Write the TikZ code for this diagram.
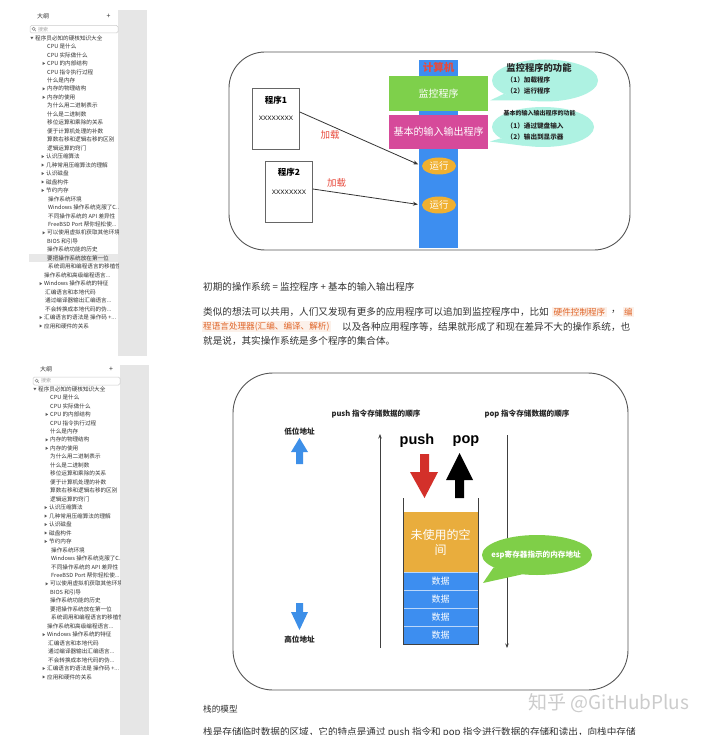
\documentclass[tikz,border=0pt]{standalone}
\usepackage{fontspec}
\setmainfont{Noto Sans CJK SC}
\newfontfamily\latf{Liberation Sans}
\usetikzlibrary{arrows.meta,shapes.geometric}
\definecolor{barblue}{HTML}{3D8EF0}
\definecolor{mongreen}{HTML}{7ED04B}
\definecolor{biomag}{HTML}{D64A9A}
\definecolor{ovalor}{HTML}{F0B030}
\definecolor{bubcyan}{HTML}{AEF2E2}
\definecolor{redtxt}{HTML}{E84A3C}
\definecolor{stkor}{HTML}{E9AD3D}
\definecolor{stkblue}{HTML}{3D8EF0}
\definecolor{espgreen}{HTML}{7FCF48}
\definecolor{redarr}{HTML}{D3302A}
\definecolor{ltblue}{HTML}{3D8FE8}
\definecolor{framec}{HTML}{555555}
\definecolor{sidegray}{HTML}{E6E6E6}
\definecolor{bodytxt}{HTML}{333333}
\definecolor{codeor}{HTML}{E0662A}
\definecolor{codebg}{HTML}{FCF1EA}
\newcommand\fsz[1]{\fontsize{#1}{#1}\selectfont}
\newcommand\eldots{...}
\def\sblist{0/35/2/程序员必知的硬核知识大全,1/47/0/CPU 是什么,2/47/0/CPU 实际做什么,3/47/1/CPU 的内部结构,4/47/0/CPU 指令执行过程,5/47/0/什么是内存,6/47/1/内存的物理结构,7/47/1/内存的使用,8/47/0/为什么用二进制表示,9/47/0/什么是二进制数,10/47/0/移位运算和乘除的关系,11/47/0/便于计算机处理的补数,12/47/0/算数右移和逻辑右移的区别,13/47/0/逻辑运算的窍门,14/46/1/认识压缩算法,15/46/1/几种常用压缩算法的理解,16/46/1/认识磁盘,17/46/1/磁盘构件,18/46/1/节约内存,19/48/0/操作系统环境,20/48/0/Windows 操作系统克服了C\eldots,21/48/0/不同操作系统的 API 差异性,22/48/0/FreeBSD Port 帮你轻松使\eldots,23/47/1/可以使用虚拟机获取其他环境,24/47/0/BIOS 和引导,25/47/0/操作系统功能的历史,26/47/0/要把操作系统放在第一位,27/48/0/系统调用和编程语言的移植性,28/44/0/操作系统和高级编程语言\eldots,29/44/1/Windows 操作系统的特征,30/45/0/汇编语言和本地代码,31/45/0/通过编译器输出汇编语言\eldots,32/45/0/不会转换成本地代码的伪\eldots,33/44/1/汇编语言的语法是 操作码 +\eldots,34/44/1/应用和硬件的关系}
\newcommand\sidebar[3]{%
  \foreach \i/\xx/\tk/\itm in \sblist {%
    \pgfmathsetmacro\yy{#3+\i*8.47}%
    \node[sbitem] (#1\i) at (\xx+#2,\yy) {\itm};
    \ifnum\tk=1 \fill[sbtri] (\xx+#2-4.3,\yy-1.5) -- ++(2.4,1.5) -- ++(-2.4,1.5) -- cycle;\fi
    \ifnum\tk=2 \fill[sbtri] (\xx+#2-4.6,\yy-1.1) -- ++(3,0) -- ++(-1.5,2.4) -- cycle;\fi
  }%
}
\tikzset{
  sbitem/.style={anchor=west,inner sep=0,font=\fsz{5.6},text=bodytxt},
  sbtri/.style={fill=black!65},
  sbhead/.style={inner sep=0,font=\fsz{6},text=bodytxt},
  frame/.style={draw=framec,line width=0.9pt,rounded corners=36pt},
  progbox/.style={draw=black!60,line width=0.6pt,minimum width=47,minimum height=61,inner sep=0},
  ldarrow/.style={draw=black!80,line width=0.8pt,-{Stealth[length=5pt,width=4pt]},shorten >=4pt},
  redlbl/.style={text=redtxt,font=\fsz{9.5}},
  runoval/.style={ellipse,fill=ovalor,minimum width=34,minimum height=17,inner sep=0,text=white,font=\fsz{9.5}},
  bubtxt/.style={inner sep=0,text=black!85,font=\fsz{6.6}\bfseries},
  body/.style={anchor=west,inner sep=0,text=bodytxt,font=\fsz{9.6}},
  code/.style={anchor=west,inner xsep=1.5,inner ysep=1.5,fill=codebg,text=codeor,font=\fsz{8.6}},
  smlbl/.style={inner sep=0,text=black!85,font=\fsz{7.6}\bfseries},
  datab/.style={fill=stkblue,draw=white!65!stkblue,line width=0.6pt,minimum width=75,minimum height=18,inner sep=0,text=white,font=\fsz{9}},
}
\begin{document}
\begin{tikzpicture}[x=1pt,y=-1pt]
\useasboundingbox (0,0) rectangle (720,735);
\clip (0,0) rectangle (720,735);
\fill[white] (0,0) rectangle (720,735);
% ---------------- sidebar 1
\fill[sidegray] (118,10) rectangle (147,356);
\node[sbhead,anchor=west] (h1) at (37,16.5) {大纲};
\node[sbhead,font=\fsz{7}] (p1plus) at (108.5,16.5) {+};
\draw[black!20,line width=0.5pt,rounded corners=1.5] (30,25.5) rectangle (118,33);
\draw[black!45,line width=0.5pt] (33.6,28.8) circle[radius=1.6pt] (34.8,30) -- (36,31.2);
\node[sbitem,text=black!35,font=\fsz{5}] (s1) at (38,29.3) {搜索};
\fill[black!9] (29,254.2) rectangle (118,262.4);
\begin{scope}
\clip (28,34) rectangle (118,356);
\sidebar{a}{0}{38}
\end{scope}
% ---------------- sidebar 2
\fill[sidegray] (120,365) rectangle (149,735);
\node[sbhead,anchor=west] (h2) at (40,369) {大纲};
\node[sbhead,font=\fsz{7}] (p2plus) at (111,369) {+};
\draw[black!20,line width=0.5pt,rounded corners=1.5] (33,377) rectangle (120,385);
\draw[black!45,line width=0.5pt] (36.6,380.6) circle[radius=1.6pt] (37.8,381.8) -- (39,383);
\node[sbitem,text=black!35,font=\fsz{5}] (s2) at (41,381) {搜索};
\begin{scope}
\clip (30,386) rectangle (120,735);
\sidebar{b}{3}{389}
\end{scope}
% ---------------- diagram 1
\draw[frame] (229,52) rectangle (630,250);
\node[progbox] (p1) at (276,118.5) {};
\node[inner sep=0,font=\fsz{8.5}\bfseries] (p1t) at (276,100) {程序1};
\node[inner sep=0,font=\latf\fsz{6.4}] (p1x) at (276,118) {XXXXXXXX};
\node[progbox] (p2) at (289,192) {};
\node[inner sep=0,font=\fsz{8.5}\bfseries] (p2t) at (289,172.5) {程序2};
\node[inner sep=0,font=\latf\fsz{6.4}] (p2x) at (289,192) {XXXXXXXX};
\node[fill=barblue,minimum width=39,minimum height=188,inner sep=0] (bar) at (438.5,154) {};
\node[text=redtxt,font=\fsz{10.5}\bfseries,inner sep=0] (comp) at (438.5,67) {计算机};
\node[fill=mongreen,minimum width=99,minimum height=35,inner sep=0,text=white,font=\fsz{10}] (mon) at (438.5,93.5) {监控程序};
\node[fill=biomag,minimum width=99,minimum height=34,inner sep=0,text=white,font=\fsz{10}] (bio) at (438.5,132) {基本的输入输出程序};
\node[runoval] (run1) at (439,166) {运行};
\node[runoval] (run2) at (439,205) {运行};
\draw[ldarrow] ([yshift=6.5pt]p1.east) -- (run1.west);
\draw[ldarrow] ([yshift=3pt]p2.east) -- (run2.west);
\node[redlbl] (ld1) at (330,135) {加载};
\node[redlbl] (ld2) at (336.5,183) {加载};
% bubbles
\node[ellipse,fill=bubcyan,minimum width=106,minimum height=42,inner sep=0] (b1) at (545,80.5) {};
\coordinate (b1tip) at (490,100.5);
\fill[bubcyan] (b1.198) -- (b1tip) -- (b1.228) -- cycle;
\node[inner sep=0,font=\fsz{9.3}\bfseries,text=black!85] (b1a) at (539,67.5) {监控程序的功能};
\node[bubtxt,anchor=west] (b1b) at (506.5,79.5) {（1）加载程序};
\node[bubtxt,anchor=west] (b1c) at (506.5,91) {（2）运行程序};
\node[ellipse,fill=bubcyan,minimum width=102,minimum height=40,inner sep=0] (b2) at (543,127) {};
\coordinate (b2tip) at (490,141.5);
\fill[bubcyan] (b2.195) -- (b2tip) -- (b2.228) -- cycle;
\node[inner sep=0,font=\fsz{6}\bfseries,text=black!85] (b2a) at (539.5,113.5) {基本的输入输出程序的功能};
\node[bubtxt,anchor=west] (b2b) at (506.5,126.5) {（1）通过键盘输入};
\node[bubtxt,anchor=west] (b2c) at (506.5,136.5) {（2）输出到显示器};
% ---------------- paragraph
\node[body] (l1) at (203,287) {初期的操作系统 = 监控程序 + 基本的输入输出程序};
\node[body] (l2a) at (203,312) {类似的想法可以共用，人们又发现有更多的应用程序可以追加到监控程序中，比如};
\node[code] (l2b) at (552,312) {硬件控制程序};
\node[body] (l2c) at (611,312) {，};
\node[code] (l2d) at (622.5,312) {编};
\node[code] (l3a) at (201.5,326.5) {程语言处理器(汇编、编译、解析)};
\node[body] (l3b) at (342,326.5) {以及各种应用程序等，结果就形成了和现在差异不大的操作系统，也};
\node[body] (l4) at (203,341) {就是说，其实操作系统是多个程序的集合体。};
% ---------------- diagram 2
\draw[frame,rounded corners=40pt] (233,373) rectangle (628,690);
\node[smlbl] (pushl) at (376,414) {push 指令存储数据的顺序};
\node[smlbl] (popl) at (527,414) {pop 指令存储数据的顺序};
\node[smlbl] (low) at (299.5,432) {低位地址};
\node[smlbl] (high) at (299.5,640) {高位地址};
\fill[ltblue] (299.5,438) -- (308,452) -- (303,452) -- (303,464) -- (296,464) -- (296,452) -- (291,452) -- cycle;
\fill[ltblue] (299.5,630) -- (308,612) -- (303,612) -- (303,603) -- (296,603) -- (296,612) -- (291,612) -- cycle;
\coordinate (lbot) at (380,648);
\coordinate (ltop) at (380,434);
\coordinate (rtop) at (507,435);
\coordinate (rbot) at (507,648);
\draw[black!75,line width=1pt,-{Stealth[length=4.5pt,width=3.5pt]}] (lbot) -- (ltop);
\draw[black!75,line width=1pt,-{Stealth[length=4.5pt,width=3.5pt]}] (rtop) -- (rbot);
\node[inner sep=0,font=\latf\fsz{14.5}\bfseries] (push) at (417,441) {push};
\node[inner sep=0,font=\latf\fsz{14.5}\bfseries] (pop) at (466,441) {pop};
\fill[redarr] (420,454) -- (429,454) -- (429,472) -- (438,472) -- (424.5,498) -- (410,472) -- (420,472) -- cycle;
\fill[black] (455,498) -- (464,498) -- (464,480) -- (473,480) -- (459.5,453) -- (446,480) -- (455,480) -- cycle;
\node[fill=stkor,minimum width=75,minimum height=60,inner sep=0,text=white,font=\fsz{12},align=center] (unused) at (440.5,542) {未使用的空\\[3pt]间};
\node[datab] (d1) at (440.5,581) {数据};
\node[datab] (d2) at (440.5,599) {数据};
\node[datab] (d3) at (440.5,617) {数据};
\node[datab] (d4) at (440.5,635) {数据};
\draw[black!75,line width=0.8pt] (403,498) -- (403,644) -- (478,644) -- (478,498);
\node[ellipse,fill=espgreen,minimum width=110,minimum height=40,inner sep=0] (esp) at (537,555) {};
\coordinate (esptip) at (483,583);
\fill[espgreen] (esp.196) -- (esptip) -- (esp.232) -- cycle;
\node[inner sep=0,text=white,font=\fsz{7.6}\bfseries] (espt) at (536,555) {esp寄存器指示的内存地址};
% ---------------- bottom
\node[body,font=\fsz{8.6}] (stk) at (203,709) {栈的模型};
\node[inner sep=0,text=black!20,font=\fsz{19}] (wm) at (609,703) {知乎 @GitHubPlus};
\node[body] (last) at (203,733) {栈是存储临时数据的区域，它的特点是通过 push 指令和 pop 指令进行数据的存储和读出，向栈中存储};
\end{tikzpicture}
\end{document}
